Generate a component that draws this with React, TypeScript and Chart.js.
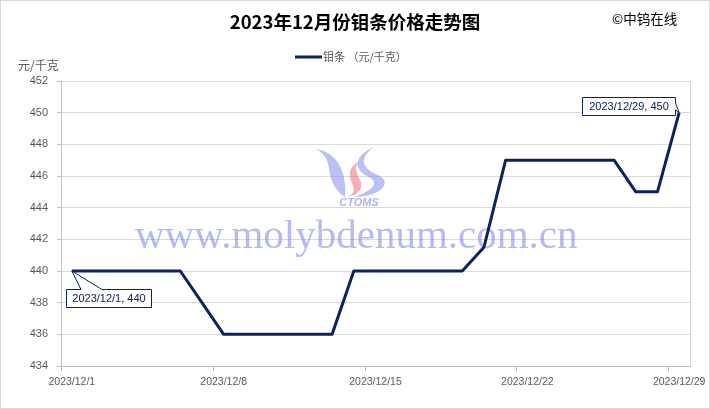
import React, { useEffect, useRef } from "react";
import { Chart, registerables } from "chart.js";

Chart.register(...registerables);

const dayNumbers = [1, 4, 5, 6, 7, 8, 11, 12, 13, 14, 15, 18, 19, 20, 21, 22, 25, 26, 27, 28, 29];
const prices = [440, 440, 440, 440, 438, 436, 436, 436, 436, 440, 440, 440, 440, 441.5, 447, 447, 447, 447, 445, 445, 450];
const tickDays = [1, 8, 15, 22, 29];
const tickLabels = ["2023/12/1", "2023/12/8", "2023/12/15", "2023/12/22", "2023/12/29"];
const yMin = 434;
const yMax = 452;
const yStep = 2;
const titleText = "2023年12月份钼条价格走势图";
const legendText = "钼条 （元/千克）";
const unitText = "元/千克";
const sourceText = "©中钨在线";
const watermarkText = "www.molybdenum.com.cn";
const logoText = "CTOMS";

const LINE = "#0a2260";
const GRAY_TEXT = "#595959";
const CJK = '"Noto Sans CJK SC", "Noto Sans", sans-serif';
const NUM = '"Liberation Sans", "DejaVu Sans", sans-serif';

const decor = {
  id: "decor",
  beforeDatasetsDraw(chart: any) {
    const ctx = chart.ctx;
    ctx.save();
    ctx.font = '41px "Liberation Serif", "DejaVu Serif", serif';
    ctx.fillStyle = "rgba(120,130,235,0.55)";
    ctx.textBaseline = "alphabetic";
    ctx.textAlign = "left";
    ctx.fillText(watermarkText, 135, 248);
    ctx.fillStyle = "rgba(120,130,235,0.5)";
    ctx.beginPath();
    ctx.moveTo(316, 149);
    ctx.bezierCurveTo(336, 152, 347, 170, 345, 197);
    ctx.bezierCurveTo(334, 190, 330, 178, 329, 168);
    ctx.bezierCurveTo(328, 160, 324, 153, 316, 149);
    ctx.fill();
    ctx.beginPath();
    ctx.moveTo(374, 147);
    ctx.bezierCurveTo(359, 158, 361, 168, 378, 175);
    ctx.bezierCurveTo(394, 182, 380, 197, 355, 197);
    ctx.bezierCurveTo(373, 190, 381, 182, 367, 176);
    ctx.bezierCurveTo(352, 168, 355, 155, 374, 147);
    ctx.fill();
    ctx.fillStyle = "rgba(240,120,130,0.6)";
    ctx.beginPath();
    ctx.moveTo(358, 162);
    ctx.bezierCurveTo(345, 170, 351, 180, 353, 186);
    ctx.bezierCurveTo(355, 191, 352, 195, 348, 197);
    ctx.bezierCurveTo(363, 194, 363, 184, 359, 178);
    ctx.bezierCurveTo(356, 173, 355, 168, 358, 162);
    ctx.fill();
    ctx.font = 'italic bold 11px "Liberation Sans", sans-serif';
    ctx.fillStyle = "rgba(120,130,235,0.6)";
    ctx.textAlign = "center";
    ctx.textBaseline = "middle";
    ctx.fillText(logoText, 359, 203);
    ctx.restore();
  },
  afterDraw(chart: any) {
    const ctx = chart.ctx;
    const xs = chart.scales.x;
    const ys = chart.scales.y;
    const area = chart.chartArea;
    ctx.save();
    ctx.strokeStyle = "#d9d9d9";
    ctx.lineWidth = 1;
    ctx.strokeRect(0.5, 0.5, chart.width - 1, chart.height - 1);
    ctx.beginPath();
    ctx.moveTo(Math.round(area.right) + 0.5, area.top);
    ctx.lineTo(Math.round(area.right) + 0.5, area.bottom);
    ctx.stroke();
    ctx.strokeStyle = "#bfbfbf";
    ctx.beginPath();
    tickDays.forEach((d) => {
      const px = Math.round(xs.getPixelForValue(d - 0.5)) + 0.5;
      ctx.moveTo(px, area.bottom);
      ctx.lineTo(px, area.bottom + 5);
    });
    ctx.stroke();
    ctx.fillStyle = GRAY_TEXT;
    ctx.font = "10.5px " + NUM;
    ctx.textAlign = "center";
    ctx.textBaseline = "middle";
    tickDays.forEach((d, i) => {
      ctx.fillText(tickLabels[i], xs.getPixelForValue(d), 382);
    });
    ctx.fillStyle = "#000";
    ctx.font = "bold 18.5px " + CJK;
    ctx.textAlign = "center";
    ctx.fillText(titleText, 355, 22);
    ctx.font = "13.5px " + CJK;
    ctx.textAlign = "left";
    ctx.fillText(sourceText, 612, 19);
    ctx.strokeStyle = LINE;
    ctx.lineWidth = 3;
    ctx.beginPath();
    ctx.moveTo(295, 57);
    ctx.lineTo(322, 57);
    ctx.stroke();
    ctx.fillStyle = GRAY_TEXT;
    ctx.font = "11px " + CJK;
    ctx.fillText(legendText, 323, 57);
    ctx.font = "12px " + CJK;
    ctx.fillText(unitText, 18, 65);

    const finish = (idx: number, cx: number, cy: number) => {
      ctx.closePath();
      ctx.fillStyle = "#fff";
      ctx.strokeStyle = LINE;
      ctx.lineWidth = 1;
      ctx.fill();
      ctx.stroke();
      ctx.fillStyle = LINE;
      ctx.font = "11px " + NUM;
      ctx.textAlign = "center";
      ctx.textBaseline = "middle";
      ctx.fillText("2023/12/" + dayNumbers[idx] + ", " + prices[idx], cx, cy);
    };
    // first callout: wedge on top edge
    {
      const px = xs.getPixelForValue(dayNumbers[0]);
      const py = ys.getPixelForValue(prices[0]);
      const l = 66.5, t = 289.5, r = 151.5, b = 307.5;
      ctx.beginPath();
      ctx.moveTo(l, t);
      ctx.lineTo(81, t);
      ctx.lineTo(px, py);
      ctx.lineTo(102, t);
      ctx.lineTo(r, t);
      ctx.lineTo(r, b);
      ctx.lineTo(l, b);
      finish(0, (l + r) / 2, (t + b) / 2 + 0.5);
    }
    // last callout: wedge on right edge
    {
      const last = prices.length - 1;
      const px = xs.getPixelForValue(dayNumbers[last]);
      const py = ys.getPixelForValue(prices[last]);
      const l = 582.5, t = 97.5, r = 675.5, b = 115.5;
      ctx.beginPath();
      ctx.moveTo(l, t);
      ctx.lineTo(r, t);
      ctx.lineTo(r, 103);
      ctx.lineTo(px, py);
      ctx.lineTo(r, 110);
      ctx.lineTo(r, b);
      ctx.lineTo(l, b);
      finish(last, (l + r) / 2, (t + b) / 2 + 0.5);
    }
    ctx.restore();
  },
};

export default function App() {
  const ref = useRef<HTMLCanvasElement>(null);
  useEffect(() => {
    document.body.style.margin = "0";
    const canvas = ref.current;
    if (!canvas) return;
    const chart = new Chart(canvas, {
      type: "line",
      data: {
        datasets: [
          {
            label: legendText,
            data: dayNumbers.map((d, i) => ({ x: d, y: prices[i] })),
            borderColor: LINE,
            backgroundColor: LINE,
            borderWidth: 3,
            pointRadius: 0,
            tension: 0,
            borderJoinStyle: "round",
          },
        ],
      },
      options: {
        animation: false,
        responsive: false,
        maintainAspectRatio: false,
        layout: { padding: { top: 81, right: 20, bottom: 43, left: 0 } },
        plugins: {
          legend: { display: false },
          title: { display: false },
          tooltip: { enabled: false },
        },
        scales: {
          x: {
            type: "linear",
            min: 0.5,
            max: 29.5,
            ticks: { display: false },
            grid: { display: true, drawOnChartArea: false, drawTicks: false, color: "#bfbfbf" },
            border: { display: true, color: "#bfbfbf", width: 1 },
            afterFit: (s: any) => {
              s.height = 0;
            },
          },
          y: {
            min: yMin,
            max: yMax,
            ticks: {
              stepSize: yStep,
              color: GRAY_TEXT,
              font: { size: 11, family: NUM },
              padding: 9,
            },
            grid: { color: "#d9d9d9", tickLength: 4, tickColor: "#bfbfbf" },
            border: { color: "#bfbfbf" },
            afterFit: (s: any) => {
              s.width = 61;
            },
          },
        },
      },
      plugins: [decor],
    });
    return () => chart.destroy();
  }, []);
  return (
    <div style={{ width: 710, height: 409, position: "relative", background: "#fff" }}>
      <canvas ref={ref} width={710} height={409} style={{ display: "block" }} />
    </div>
  );
}
